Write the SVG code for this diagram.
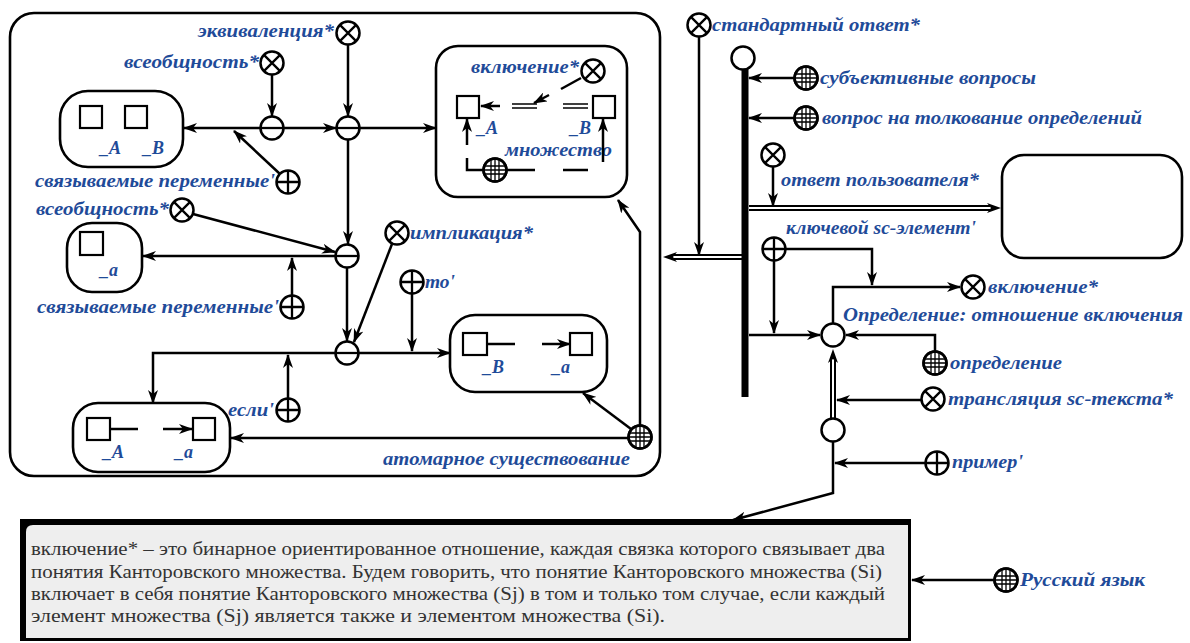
<svg xmlns="http://www.w3.org/2000/svg" xmlns:xlink="http://www.w3.org/1999/xlink" width="1190" height="643" viewBox="0 0 1190 643">
<style>
.ln{fill:none;stroke:#000;stroke-width:2.5}
.arr{marker-end:url(#ah)}
.dblo{fill:none;stroke:#000;stroke-width:6;marker-end:url(#ahd)}
.dbli{fill:none;stroke:#fff;stroke-width:2}
.thin{fill:none;stroke:#000;stroke-width:1.6}
.box{fill:#fff;stroke:#000;stroke-width:2.6}
.sq{fill:#fff;stroke:#000;stroke-width:2.2}
.lbl{font-family:"Liberation Serif","DejaVu Serif",serif;font-weight:bold;font-style:italic;font-size:18px;fill:#1f4b99}
.txt{font-family:"Liberation Serif","DejaVu Serif",serif;font-size:19px;fill:#333}
.c{fill:#fff;stroke:#000;stroke-width:2.5}
.g{stroke:#000;stroke-width:1.3}
.x{stroke:#000;stroke-width:2.3}
</style>
<defs>
<marker id="ah" viewBox="0 0 14 10" refX="13" refY="5" markerWidth="14" markerHeight="10" orient="auto" markerUnits="userSpaceOnUse"><path d="M0,0 L14,5 L0,10 L4,5 z" fill="#000"/></marker>
<marker id="ahd" viewBox="0 0 14 10" refX="3" refY="5" markerWidth="14" markerHeight="10" orient="auto" markerUnits="userSpaceOnUse"><path d="M0,0 L14,5 L0,10 L4,5 z" fill="#000"/></marker>
<g id="nX"><circle class="c" r="11.5"/><path class="x" d="M-8.1,-8.1 L8.1,8.1 M-8.1,8.1 L8.1,-8.1"/></g>
<g id="nP"><circle class="c" r="11.5"/><path class="x" d="M-11.5,0 H11.5 M0,-11.5 V11.5"/></g>
<g id="nM"><circle class="c" r="11.5"/><path class="x" d="M-11.5,0 H11.5"/></g>
<g id="nG"><circle class="c" r="11.5"/><path class="g" d="M-10.8,-4 H10.8 M-11.5,0 H11.5 M-10.8,4 H10.8 M-4,-10.8 V10.8 M0,-11.5 V11.5 M4,-10.8 V10.8"/><circle r="11.5" fill="none" stroke="#000" stroke-width="2.5"/></g>
<g id="nO"><circle class="c" r="11.5"/></g>
</defs>
<rect width="1190" height="643" fill="#fff"/>

<g id="main-contour"><rect class="box" x="10" y="13" width="650" height="463" rx="24"/></g>

<g id="box-AB"><rect class="box" x="60" y="91" width="123" height="76" rx="28"/><rect class="sq" x="80" y="106" width="22" height="22"/><rect class="sq" x="125" y="106" width="22" height="22"/><text class="lbl" x="100" y="154">_A</text><text class="lbl" x="143" y="154">_B</text></g>
<g id="box-a"><rect class="box" x="67" y="223" width="75" height="69" rx="25"/><rect class="sq" x="80" y="232" width="23" height="23"/><text class="lbl" x="100" y="276">_a</text></g>
<g id="box-Aa"><rect class="box" x="73" y="403" width="157" height="69" rx="25"/><rect class="sq" x="87" y="418" width="23" height="22"/><rect class="sq" x="193" y="418" width="22" height="22"/><text class="lbl" x="103" y="458">_A</text><text class="lbl" x="175" y="458">_a</text></g>
<g id="box-Ba"><rect class="box" x="450" y="315" width="157" height="77" rx="25"/><rect class="sq" x="463" y="333" width="24" height="22"/><rect class="sq" x="570" y="333" width="22" height="22"/><text class="lbl" x="483" y="373">_B</text><text class="lbl" x="552" y="373">_a</text></g>
<g id="box-incl"><rect class="box" x="436" y="46" width="191" height="151" rx="22"/><rect class="sq" x="457" y="96" width="22" height="22"/><rect class="sq" x="593" y="96" width="22" height="22"/><text class="lbl" x="477" y="134">_A</text><text class="lbl" x="570" y="134">_B</text><text class="lbl" x="505" y="156" textLength="107" lengthAdjust="spacingAndGlyphs">множество</text></g>
<g id="box-answer"><rect class="box" x="1002" y="155" width="180" height="103" rx="22"/></g>

<g id="connectors">
<path class="ln arr" d="M348,45 V116"/>
<path class="ln arr" d="M272,75 V116"/>
<path class="ln arr" d="M284,128 H336"/>
<path class="ln arr" d="M260,128 H184"/>
<path class="ln arr" d="M280,174 L234,131"/>
<path class="ln arr" d="M360,128 H436"/>
<path class="ln arr" d="M348,140 V244"/>
<path class="ln arr" d="M193,214 L335,252"/>
<path class="ln arr" d="M335,256 H143"/>
<path class="ln arr" d="M292,295 V258"/>
<path class="ln arr" d="M347,268 V341"/>
<path class="ln arr" d="M392,244 L354,342"/>
<path class="ln arr" d="M335,353 H153 V403"/>
<path class="ln arr" d="M288,398 V355"/>
<path class="ln arr" d="M359,353 H450"/>
<path class="ln arr" d="M412,294 V351"/>
<path class="ln arr" d="M628,438 H231"/>
<path class="ln arr" d="M631,429 L583,393"/>
<path class="ln arr" d="M640,425 V232 L618,200"/>
<path class="thin" d="M563,104 H588 M563,108 H588 M512,104 H537 M512,108 H537"/>
<path class="ln arr" d="M500,106 H481"/>
<path class="ln" d="M581,78 L561,89"/>
<path class="ln arr" d="M549,95 L534,103"/>
<path class="ln" d="M484,170 H467 V158"/>
<path class="ln arr" d="M467,145 V119"/>
<path class="ln" d="M506,170 H535 M563,170 H588"/>
<path class="ln arr" d="M603,162 V119"/>
<path class="ln" d="M110,429 H138"/>
<path class="ln arr" d="M163,429 H192"/>
<path class="ln" d="M487,344 H515"/>
<path class="ln arr" d="M542,344 H570"/>
<path class="ln arr" d="M699,37 V255"/>
<path class="dblo" d="M742,257 H674"/><path class="dbli" d="M743,257 H674"/>
<path class="ln arr" d="M794,78 H749"/>
<path class="ln arr" d="M794,118 H749"/>
<path class="dblo" d="M749,208 H990"/><path class="dbli" d="M748,208 H990"/>
<path class="ln arr" d="M773,167 V206"/>
<path class="ln arr" d="M749,335 H820"/>
<path class="ln arr" d="M774,261 V333"/>
<path class="ln arr" d="M786,249 H872 V285"/>
<path class="ln arr" d="M833,323 V287 H960"/>
<path class="ln arr" d="M935,351 V335 H846"/>
<path class="dblo" d="M833,418 V360"/><path class="dbli" d="M833,419 V360"/>
<path class="ln arr" d="M921,400 H837"/>
<path class="ln arr" d="M833,442 V493 L733,520"/>
<path class="ln arr" d="M925,463 H835"/>
<path class="ln arr" d="M994,580 H912"/>
</g>

<g id="node-equiv"><use href="#nX" x="348" y="33"/><text class="lbl" x="334" y="37" text-anchor="end" textLength="136" lengthAdjust="spacingAndGlyphs">эквиваленция*</text></g>
<g id="node-univ1"><use href="#nX" x="272" y="63"/><text class="lbl" x="259" y="68" text-anchor="end" textLength="135" lengthAdjust="spacingAndGlyphs">всеобщность*</text></g>
<g id="node-t1"><use href="#nM" x="272" y="128"/></g>
<g id="node-t2"><use href="#nM" x="348" y="128"/></g>
<g id="node-bound1"><use href="#nP" x="288" y="182"/><text class="lbl" x="275" y="187" text-anchor="end" textLength="240" lengthAdjust="spacingAndGlyphs">связываемые переменные'</text></g>
<g id="node-univ2"><use href="#nX" x="182" y="210"/><text class="lbl" x="169" y="215" text-anchor="end" textLength="133" lengthAdjust="spacingAndGlyphs">всеобщность*</text></g>
<g id="node-t3"><use href="#nM" x="347" y="256"/></g>
<g id="node-bound2"><use href="#nP" x="292" y="307"/><text class="lbl" x="279" y="313" text-anchor="end" textLength="242" lengthAdjust="spacingAndGlyphs">связываемые переменные'</text></g>
<g id="node-impl"><use href="#nX" x="397" y="233"/><text class="lbl" x="410" y="239" textLength="123" lengthAdjust="spacingAndGlyphs">импликация*</text></g>
<g id="node-t4"><use href="#nM" x="347" y="353"/></g>
<g id="node-then"><use href="#nP" x="412" y="282"/><text class="lbl" x="425" y="288" textLength="30" lengthAdjust="spacingAndGlyphs">то'</text></g>
<g id="node-if"><use href="#nP" x="288" y="410"/><text class="lbl" x="274" y="416" text-anchor="end" textLength="46" lengthAdjust="spacingAndGlyphs">если'</text></g>
<g id="node-atomic"><use href="#nG" x="640" y="437"/><text class="lbl" x="383" y="465" textLength="247" lengthAdjust="spacingAndGlyphs">атомарное существование</text></g>
<g id="node-incl-inner"><use href="#nX" x="593" y="71"/><text class="lbl" x="471" y="73" textLength="108" lengthAdjust="spacingAndGlyphs">включение*</text></g>
<g id="node-set"><use href="#nG" x="495" y="170"/></g>

<g id="node-standard"><use href="#nX" x="699" y="25"/><text class="lbl" x="712" y="31" textLength="208" lengthAdjust="spacingAndGlyphs">стандартный ответ*</text></g>
<g id="node-answer"><path d="M745,68 V397" stroke="#000" stroke-width="7"/><use href="#nO" x="743" y="58"/></g>
<g id="node-subj"><use href="#nG" x="806" y="78"/><text class="lbl" x="820" y="84" textLength="216" lengthAdjust="spacingAndGlyphs">субъективные вопросы</text></g>
<g id="node-question"><use href="#nG" x="806" y="118"/><text class="lbl" x="822" y="124" textLength="320" lengthAdjust="spacingAndGlyphs">вопрос на толкование определений</text></g>
<g id="node-user-answer"><use href="#nX" x="773" y="155"/><text class="lbl" x="781" y="186" textLength="198" lengthAdjust="spacingAndGlyphs">ответ пользователя*</text></g>
<g id="node-key"><use href="#nP" x="774" y="249"/><text class="lbl" x="786" y="234" textLength="190" lengthAdjust="spacingAndGlyphs">ключевой sc-элемент'</text></g>
<g id="node-def"><use href="#nO" x="833" y="335"/><text class="lbl" x="843" y="321" textLength="340" lengthAdjust="spacingAndGlyphs">Определение: отношение включения</text></g>
<g id="node-incl"><use href="#nX" x="973" y="287"/><text class="lbl" x="988" y="293" textLength="110" lengthAdjust="spacingAndGlyphs">включение*</text></g>
<g id="node-definition"><use href="#nG" x="935" y="363"/><text class="lbl" x="950" y="369" textLength="112" lengthAdjust="spacingAndGlyphs">определение</text></g>
<g id="node-transl"><use href="#nX" x="933" y="399"/><text class="lbl" x="948" y="405" textLength="225" lengthAdjust="spacingAndGlyphs">трансляция sc-текста*</text></g>
<g id="node-c2"><use href="#nO" x="833" y="430"/></g>
<g id="node-example"><use href="#nP" x="937" y="463"/><text class="lbl" x="952" y="468" textLength="71" lengthAdjust="spacingAndGlyphs">пример'</text></g>
<g id="node-russian"><use href="#nG" x="1006" y="580"/><text class="lbl" x="1020" y="586" textLength="125" lengthAdjust="spacingAndGlyphs">Русский язык</text></g>

<g id="text-box">
<rect x="20" y="519" width="891" height="122" fill="#000"/>
<path d="M33,525 H908 V638 H26 V532 Q26,525 33,525 z" fill="#eeeeee"/>
<text class="txt" x="31" y="555" textLength="854" lengthAdjust="spacingAndGlyphs">включение* – это бинарное ориентированное отношение, каждая связка которого связывает два</text>
<text class="txt" x="31" y="578" textLength="851" lengthAdjust="spacingAndGlyphs">понятия Канторовского множества. Будем говорить, что понятие Канторовского множества (Si)</text>
<text class="txt" x="31" y="600" textLength="854" lengthAdjust="spacingAndGlyphs">включает в себя понятие Канторовского множества (Sj) в том и только том случае, если каждый</text>
<text class="txt" x="31" y="622" textLength="634" lengthAdjust="spacingAndGlyphs">элемент множества (Sj) является также и элементом множества (Si).</text>
</g>
</svg>
